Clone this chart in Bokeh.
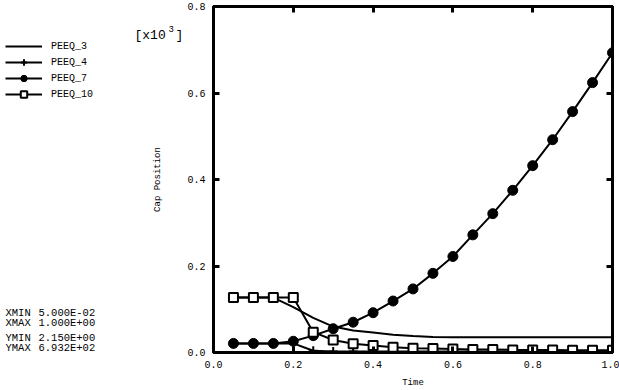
import math
from bokeh.plotting import figure
from bokeh.layouts import row
from bokeh.models import (Legend, LegendItem, Label, LinearAxis, FixedTicker,
                          NumeralTickFormatter, Range1d, CustomLabelingPolicy)
from bokeh.embed import file_html
from bokeh.resources import INLINE

# ---------------- data (values in units of 10^3) ----------------
time = [0.05, 0.10, 0.15, 0.20, 0.25, 0.30, 0.35, 0.40, 0.45, 0.50,
        0.55, 0.60, 0.65, 0.70, 0.75, 0.80, 0.85, 0.90, 0.95, 1.00]
peeq_3 = [0.127, 0.127, 0.127, 0.105, 0.080, 0.060, 0.051, 0.046, 0.041, 0.038,
          0.036, 0.035, 0.035, 0.035, 0.035, 0.035, 0.035, 0.035, 0.035, 0.035]
peeq_4 = [0.021, 0.021, 0.021, 0.021, 0.004, 0.0025, 0.0023, 0.0022, 0.0022, 0.0022,
          0.0022, 0.0022, 0.0022, 0.0022, 0.00215, 0.00215, 0.00215, 0.00215, 0.00215, 0.00215]
peeq_7 = [0.021, 0.021, 0.021, 0.026, 0.039, 0.055, 0.070, 0.092, 0.119, 0.147,
          0.183, 0.222, 0.272, 0.321, 0.375, 0.432, 0.492, 0.557, 0.624, 0.693]
peeq_10 = [0.127, 0.127, 0.127, 0.127, 0.047, 0.029, 0.020, 0.016, 0.012, 0.010,
           0.009, 0.008, 0.007, 0.007, 0.006, 0.006, 0.006, 0.005, 0.005, 0.005]

series_names = ["PEEQ_3", "PEEQ_4", "PEEQ_7", "PEEQ_10"]
x_ticks = [0.0, 0.2, 0.4, 0.6, 0.8, 1.0]
y_ticks = [0.0, 0.2, 0.4, 0.6, 0.8]
stat_names = ["XMIN", "XMAX", "YMIN", "YMAX"]
stat_values = ["5.000E-02", "1.000E+00", "2.150E+00", "6.932E+02"]

MONO = "Liberation Mono"
W, H = 619, 390
LEFT_W = 184
FRAME_TOP, FRAME_BOTTOM = 6, 352

# ---------------- main plot ----------------
p = figure(width=W - LEFT_W, height=H, x_range=Range1d(0, 1), y_range=Range1d(0, 0.8),
           output_backend="svg", toolbar_location=None,
           min_border_left=26, min_border_right=7,
           min_border_top=FRAME_TOP, min_border_bottom=H - FRAME_BOTTOM)
p.grid.visible = False
p.outline_line_color = "black"
p.outline_line_width = 3
p.background_fill_color = "white"
p.border_fill_color = "white"

hide_labels = CustomLabelingPolicy(
    code="for (let i = 0; i < indices.size; i++) { indices.unset(i) }\nreturn indices")
p.add_layout(LinearAxis(major_label_policy=hide_labels), "right")
p.add_layout(LinearAxis(major_label_policy=hide_labels), "above")

for ax in p.xaxis:
    ax.ticker = FixedTicker(ticks=x_ticks)
for ax in p.yaxis:
    ax.ticker = FixedTicker(ticks=y_ticks)
for ax in p.axis:
    ax.formatter = NumeralTickFormatter(format="0.0")
    ax.major_tick_in = 6
    ax.major_tick_out = 0
    ax.major_tick_line_width = 3
    ax.minor_tick_line_color = None
    ax.axis_line_width = 3
    ax.major_label_text_font = MONO
    ax.major_label_text_font_size = "10px"
    ax.major_label_text_color = "black"
    ax.major_label_standoff = 8

for ax in (p.right[0], p.above[0]):
    ax.major_label_standoff = 0
    ax.major_label_text_font_size = "0px"

xb = p.below[0]
xb.axis_label = "Time"
xb.axis_label_text_font = MONO
xb.axis_label_text_font_size = "9px"
xb.axis_label_text_font_style = "normal"
xb.axis_label_text_color = "black"
xb.axis_label_standoff = 7


def draw_series(fig):
    r3 = fig.line(time, peeq_3, line_color="black", line_width=2)
    r4 = fig.line(time, peeq_4, line_color="black", line_width=2)
    m4 = fig.scatter(time, peeq_4, marker="cross", size=9, line_color="black", line_width=2)
    r7 = fig.line(time, peeq_7, line_color="black", line_width=2)
    m7 = fig.scatter(time, peeq_7, marker="circle", size=10, fill_color="black",
                     line_color="black")
    r10 = fig.line(time, peeq_10, line_color="black", line_width=2)
    m10 = fig.scatter(time, peeq_10, marker="square", size=9, fill_color="white",
                      line_color="black", line_width=2)
    return [[r3], [r4, m4], [r7, m7], [r10, m10]]


draw_series(p)

# ---------------- left panel: legend and notes ----------------
# Its ranges lie away from the data, so the series drawn here only serve the legend keys.
q = figure(width=LEFT_W, height=H, x_range=Range1d(5, 6), y_range=Range1d(5, 6),
           output_backend="svg", toolbar_location=None,
           x_axis_location=None, y_axis_location=None,
           min_border_left=0, min_border_right=0,
           min_border_top=FRAME_TOP, min_border_bottom=H - FRAME_BOTTOM)
q.grid.visible = False
q.outline_line_color = None
q.background_fill_color = "white"
q.border_fill_color = "white"

keys = draw_series(q)
ROW_H = 16
legend = Legend(items=[LegendItem(label=n, renderers=r) for n, r in zip(series_names, keys)],
                location=(5, FRAME_BOTTOM - 38 - ROW_H * len(series_names)),
                padding=0, margin=0, spacing=0,
                glyph_width=37, glyph_height=ROW_H, label_height=ROW_H, label_standoff=9,
                label_text_font=MONO, label_text_font_size="10px", label_text_color="black",
                border_line_color=None, background_fill_alpha=0)
q.add_layout(legend, "center")


def lab(text, px, py, size, align="left", baseline="middle", angle=0.0):
    # px, py: page position; converted to screen units from the frame's bottom-left
    q.add_layout(Label(x=px, y=FRAME_BOTTOM - py, x_units="screen", y_units="screen",
                       text=text, text_font=MONO, text_font_size=size,
                       text_align=align, text_baseline=baseline, angle=angle,
                       text_color="black"))


lab("[x10", 134, 35, "13px", baseline="alphabetic")
lab("3", 168, 28, "9px", baseline="alphabetic")
lab("]", 175, 35, "13px", baseline="alphabetic")
lab("Cap Position", 157, 179, "9px", align="center", angle=math.pi / 2)

for name, val, py in zip(stat_names, stat_values, [312, 322.5, 337.5, 347.5]):
    lab(name, 5, py, "10.5px")
    lab(val, 38, py, "10.5px")

open("out.html", "w").write(file_html(row(q, p), INLINE))
